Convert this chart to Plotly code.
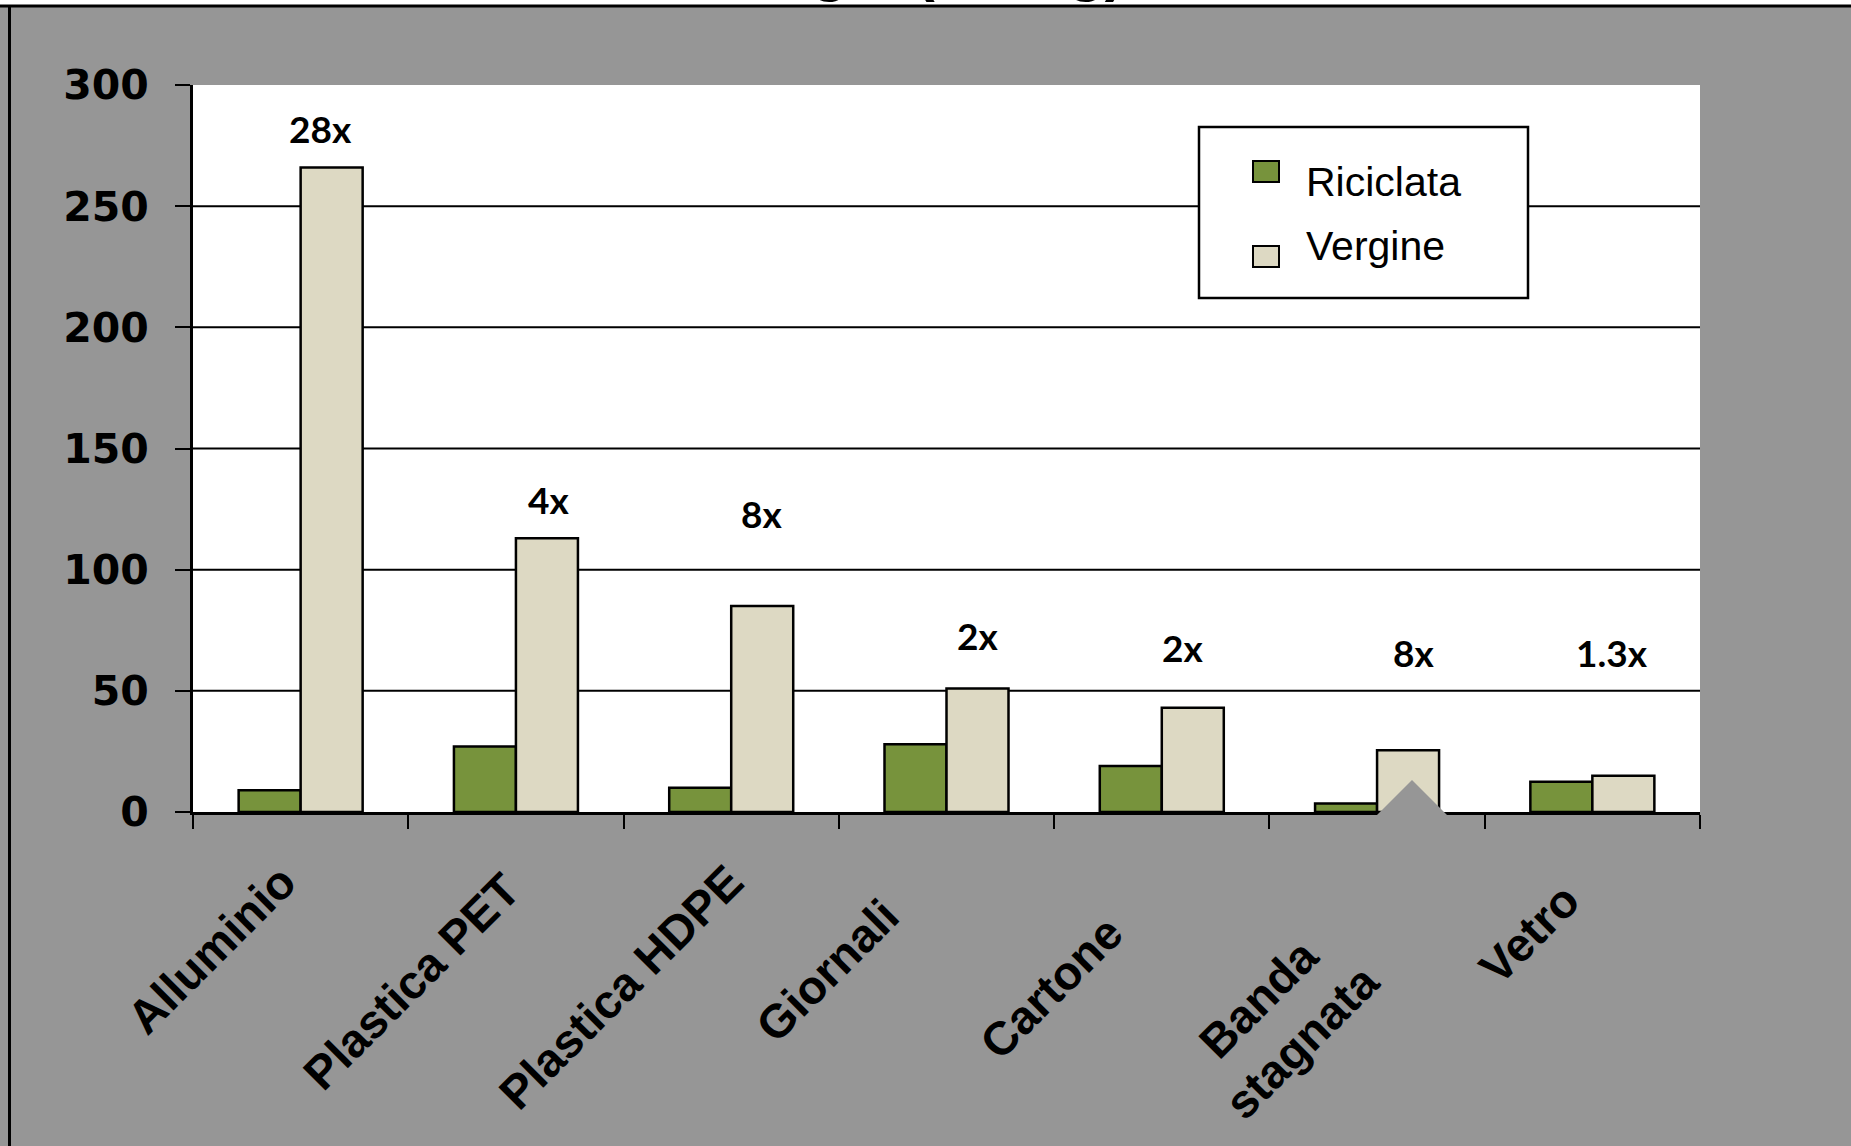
import plotly.graph_objects as go

# Energy needed per kg of material: recycled vs. virgin (MJ/kg)
categories = ["Alluminio", "Plastica PET", "Plastica HDPE", "Giornali",
              "Cartone", "Banda<br>stagnata", "Vetro"]
riciclata = [9, 27, 10, 28, 19, 3.5, 12.5]
vergine = [266, 113, 85, 51, 43, 25.5, 15]
rapporti = ["28x", "4x", "8x", "2x", "2x", "8x", "1.3x"]
y_ticks = [0, 50, 100, 150, 200, 250, 300]

# placement of the ratio labels (data units / pixel shift)
label_y = [282, 129, 123, 73, 68, 66, 66]
label_dx = [20, 33, 30, 31, 21, 36, 20]
# centres (page pixels) of the slanted category labels
cat_label_pos = [(211, 949), (411, 981), (620, 987), (827, 970),
                 (1051, 987), (1280, 1020), (1529, 933)]

W, H = 1851, 1146
ML, MR, MT, MB = 193, 151, 85, 334
PW, PH = W - ML - MR, H - MT - MB

GREEN = "#77933C"
TAN = "#DDD9C3"
GRAY = "#969696"


def px(x):
    return (x - ML) / PW


def py(y):
    return (H - MB - y) / PH


fig = go.Figure()
fig.add_trace(go.Bar(name="Riciclata", x=categories, y=riciclata,
                     marker=dict(color=GREEN, line=dict(color="black", width=2.5))))
fig.add_trace(go.Bar(name="Vergine", x=categories, y=vergine,
                     marker=dict(color=TAN, line=dict(color="black", width=2.5))))

shapes = []
# horizontal gridlines (none on the top edge)
for v in y_ticks[1:-1]:
    shapes.append(dict(type="line", xref="paper", yref="y", x0=0, x1=1, y0=v, y1=v,
                       line=dict(color="black", width=2), layer="below"))

# page frame: white strip on top, black border lines
shapes.append(dict(type="rect", xref="paper", yref="paper",
                   x0=px(-5), x1=px(W + 5), y0=py(5), y1=py(-10),
                   fillcolor="white", line=dict(width=0), layer="below"))
shapes.append(dict(type="line", xref="paper", yref="paper",
                   x0=px(-5), x1=px(W + 5), y0=py(6), y1=py(6),
                   line=dict(color="black", width=3), layer="above"))
shapes.append(dict(type="line", xref="paper", yref="paper",
                   x0=px(9.5), x1=px(9.5), y0=py(6), y1=py(H + 5),
                   line=dict(color="black", width=3), layer="above"))

# grey wedge over the base of the tinplate bar
shapes.append(dict(type="path", xref="paper", yref="paper",
                   path=f"M {px(1373)},{py(819)} L {px(1412)},{py(780)} L {px(1451)},{py(819)} Z",
                   fillcolor=GRAY, line=dict(width=0), layer="above"))

# legend box
shapes.append(dict(type="rect", xref="paper", yref="paper",
                   x0=px(1199), x1=px(1528), y0=py(298), y1=py(127),
                   fillcolor="white", line=dict(color="black", width=2.5), layer="above"))
shapes.append(dict(type="rect", xref="paper", yref="paper",
                   x0=px(1253), x1=px(1279), y0=py(182), y1=py(161),
                   fillcolor=GREEN, line=dict(color="black", width=2), layer="above"))
shapes.append(dict(type="rect", xref="paper", yref="paper",
                   x0=px(1253), x1=px(1279), y0=py(267), y1=py(246),
                   fillcolor=TAN, line=dict(color="black", width=2), layer="above"))

annotations = []
for i, t in enumerate(rapporti):
    annotations.append(dict(x=i, y=label_y[i], xref="x", yref="y", text=t,
                            showarrow=False, xshift=label_dx[i],
                            xanchor="center", yanchor="middle",
                            font=dict(family="Lato", size=37, color="black", weight="bold")))

# slanted category labels
for name, (cx, cy) in zip(categories, cat_label_pos):
    annotations.append(dict(x=px(cx), y=py(cy), xref="paper", yref="paper", text=name,
                            showarrow=False, textangle=-45, align="center",
                            xanchor="center", yanchor="middle",
                            borderpad=0, borderwidth=0,
                            font=dict(family="Liberation Sans", size=47, color="black",
                                      weight="bold")))

for name, yc in [("Riciclata", 182), ("Vergine", 246)]:
    annotations.append(dict(x=px(1306), y=py(yc), xref="paper", yref="paper", text=name,
                            showarrow=False, xanchor="left", yanchor="middle",
                            borderpad=0, borderwidth=0,
                            font=dict(family="Liberation Sans", size=41, color="black")))

# chart title, mostly above the page edge
annotations.append(dict(x=px(901), y=py(3), xref="paper", yref="paper",
                        text="Energia (MJ/kg)", showarrow=False,
                        xanchor="center", yanchor="bottom", borderpad=0, borderwidth=0,
                        font=dict(family="Liberation Sans", size=60, color="black", weight="bold")))

fig.update_layout(
    width=W, height=H,
    margin=dict(l=ML, r=MR, t=MT, b=MB),
    paper_bgcolor=GRAY, plot_bgcolor="white",
    barmode="group", bargap=0.424, bargroupgap=0,
    showlegend=False,
    shapes=shapes, annotations=annotations,
    xaxis=dict(type="category", tickson="boundaries", ticks="outside", ticklen=14,
               tickwidth=2, tickcolor="black", showline=True, linecolor="black",
               linewidth=3, showgrid=False, showticklabels=False),
    yaxis=dict(range=[0, 300], tickvals=y_ticks, ticks="outside", ticklen=15,
               tickwidth=2, tickcolor="black", showline=True, linecolor="black",
               linewidth=3, showgrid=False, zeroline=False, ticklabelstandoff=18,
               tickfont=dict(family="DejaVu Sans", size=41, color="black", weight="bold")),
)

fig.write_html("out.html")
